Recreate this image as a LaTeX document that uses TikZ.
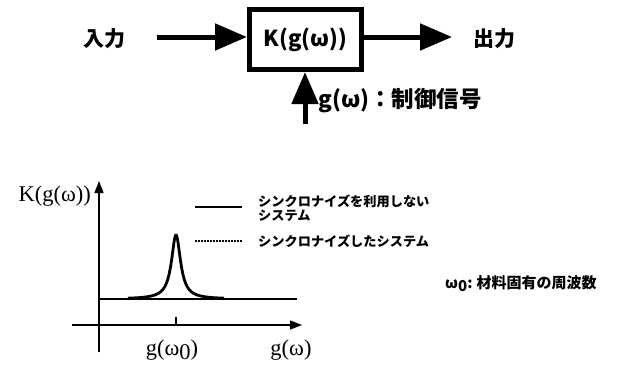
\documentclass[tikz,border=0pt]{standalone}
\usepackage{fontspec}
\usetikzlibrary{arrows.meta}
\newfontfamily\jp{Noto Sans CJK JP}
\newfontfamily\tms{Liberation Serif}
\tikzset{
  jpbig/.style={font=\jp\bfseries\fontsize{21}{24}\selectfont, inner sep=0pt},
  bigarrow/.style={line width=5pt, -{Triangle[length=32pt,width=26pt]}},
  axisline/.style={line width=1.3pt, -{Triangle[length=12pt,width=9pt]}},
  curve/.style={line width=2.8pt},
  serif/.style={font=\tms\fontsize{22.5}{24}\selectfont, inner sep=0pt},
  legend/.style={font=\jp\bfseries\fontsize{13.2}{12.5}\selectfont, inner sep=0pt, anchor=west, align=left},
}
\begin{document}
\begin{tikzpicture}[x=1pt,y=-1pt]
\useasboundingbox (0,0) rectangle (637,367);
% top block diagram
\node[jpbig] (in) at (104,39) {入力};
\node[draw, line width=5pt, minimum width=112pt, minimum height=60pt, inner sep=0pt,
      font=\jp\bfseries\fontsize{22}{24}\selectfont] (K) at (305.5,39.5) {K(g(ω))};
\node[jpbig] (out) at (494,39) {出力};
\coordinate (inS) at (157,37);
\coordinate (outE) at (452,37);
\coordinate (cS) at (305,124);
\draw[bigarrow] (inS) -- (K.west |- inS);
\draw[bigarrow] (K.east |- outE) -- (outE);
\draw[bigarrow] (cS) -- (cS |- K.south);
\node[jpbig, anchor=west, font=\jp\bfseries\fontsize{22.5}{24}\selectfont] (ctl) at (318,101) {g(ω)：制御信号};
% graph
\coordinate (yb) at (99,352);
\coordinate (yt) at (99,181);
\coordinate (xl) at (72,325);
\coordinate (xr) at (302,325);
\draw[axisline] (yb) -- (yt);
\draw[axisline] (xl) -- (xr);
\coordinate (b0) at (99,299);
\coordinate (b1) at (297,299);
\draw[curve] (b0) -- (b1);
\draw[curve, line join=round] plot[domain=128:176, samples=120, smooth] (\x, {299 - 64/(1+((\x-176)/5.5)^2)})
  -- plot[domain=176:224, samples=120, smooth] (\x, {299 - 64/(1+((\x-176)/5.5)^2)});
\coordinate (t0) at (176,317);
\coordinate (t1) at (176,325);
\draw[line width=1.3pt] (t0) -- (t1);
\node[serif, anchor=east] (ylab) at (91,196) {K(g(ω))};
\node[serif] (g0) at (172,350) {g(ω\raisebox{-4pt}{0})};
\node[serif] (gw) at (291,350) {g(ω)};
% legend
\coordinate (l1a) at (195,207);
\coordinate (l1b) at (242,207);
\coordinate (l2a) at (195,241);
\coordinate (l2b) at (242,241);
\draw[line width=2pt] (l1a) -- (l1b);
\draw[line width=2pt, dash pattern=on 1.6pt off 1.4pt] (l2a) -- (l2b);
\node[legend] (t1a) at (258,208) {シンクロナイズを利用しない\\[1pt]システム};
\node[legend] (t2a) at (258,241) {シンクロナイズしたシステム};
% note
\node[font=\jp\bfseries\fontsize{15}{16}\selectfont, inner sep=0pt, anchor=west] (note) at (445,284) {ω\raisebox{-3pt}{0}:\hspace{4pt}材料固有の周波数};
\end{tikzpicture}
\end{document}
